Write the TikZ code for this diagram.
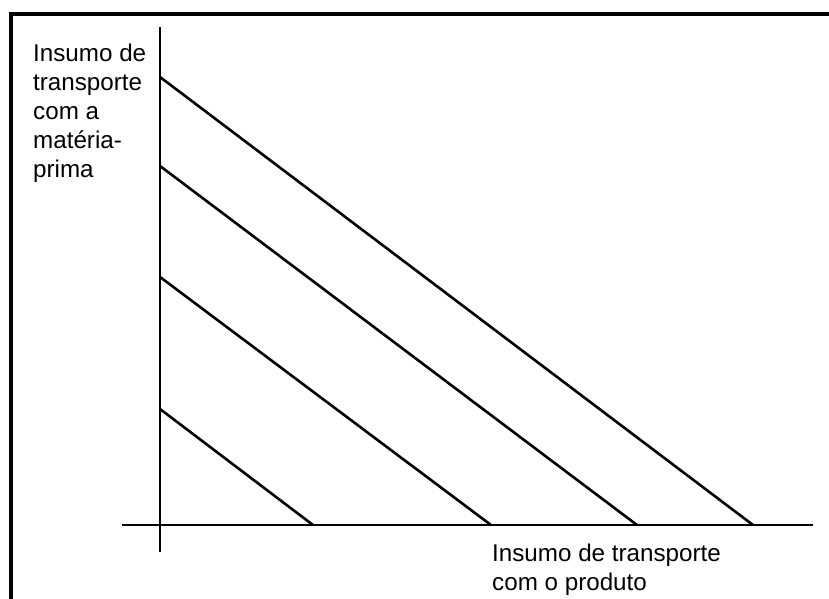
\documentclass[tikz,border=0pt]{standalone}
\usepackage{fontspec}
\setmainfont{Liberation Sans}
\begin{document}
\begin{tikzpicture}[x=1pt,y=-1pt,
  axis/.style={line width=2.7pt,black},
  iso/.style={line width=2.6pt,black},
  frameline/.style={line width=3.4pt,black},
  lbl/.style={inner sep=0pt,anchor=base west,align=left,font=\fontsize{24.2}{29}\selectfont}]
\useasboundingbox (0,0) rectangle (829,599);
% frame (cropped)
\coordinate (fbl) at (11,599);
\coordinate (ftl) at (11,14);
\coordinate (ftr) at (829,14);
\draw[frameline] (fbl) -- (ftl) -- (ftr);
% axes
\coordinate (O) at (160,525);
\coordinate (ytop) at (160,27);
\coordinate (ybot) at (160,552);
\coordinate (xleft) at (122,525);
\coordinate (xright) at (813,525);
\draw[axis] (ybot) -- (ytop);
\draw[axis] (xleft) -- (xright);
% iso lines
\coordinate (a1) at (160,77);  \coordinate (b1) at (753,525);
\coordinate (a2) at (160,166); \coordinate (b2) at (637,525);
\coordinate (a3) at (160,277); \coordinate (b3) at (491,525);
\coordinate (a4) at (160,409); \coordinate (b4) at (313,525);
\draw[iso] (a1) -- (b1);
\draw[iso] (a2) -- (b2);
\draw[iso] (a3) -- (b3);
\draw[iso] (a4) -- (b4);
% labels (base anchor = baseline of last line)
\node[lbl] (ylab) at (33,177) {Insumo de\\transporte\\com a\\matéria-\\prima};
\node[lbl] (xlab) at (492,590) {Insumo de transporte\\com o produto};
\end{tikzpicture}
\end{document}
